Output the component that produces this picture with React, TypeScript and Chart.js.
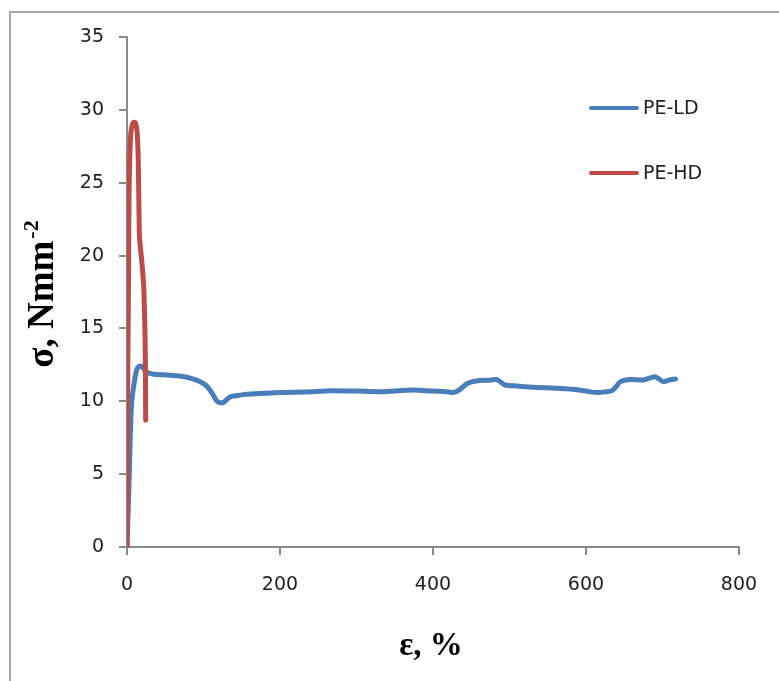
import React, { useEffect, useRef } from "react";
import { Chart, registerables } from "chart.js";

Chart.register(...registerables);

// PE-LD (low density polyethylene): strain (%) and stress (N/mm²)
const ldStrain = [0, 1.5, 3, 4.4, 6.1, 9.2, 12.6, 16, 20, 25.7, 35, 52, 69, 85, 95, 103, 108.5, 113, 117, 121.6, 127, 134.6, 145, 156, 180, 200, 243, 265, 300, 331, 374, 400, 418, 427, 435, 444, 452, 461, 475, 483, 489, 494, 510, 531, 560, 583, 600, 614, 626, 634, 640, 645, 657, 675, 684, 690, 695, 701, 708, 717];
const ldStress = [0, 2.5, 5, 7.8, 9.9, 11.2, 12.15, 12.4, 12.35, 12.0, 11.85, 11.8, 11.73, 11.55, 11.35, 11.1, 10.78, 10.4, 10.05, 9.9, 9.95, 10.3, 10.4, 10.48, 10.55, 10.6, 10.66, 10.73, 10.7, 10.66, 10.77, 10.7, 10.66, 10.6, 10.8, 11.2, 11.35, 11.43, 11.45, 11.5, 11.3, 11.12, 11.05, 10.96, 10.9, 10.82, 10.7, 10.6, 10.65, 10.73, 11.05, 11.35, 11.5, 11.46, 11.6, 11.69, 11.55, 11.35, 11.45, 11.53];

// PE-HD (high density polyethylene)
const hdStrain = [0, 0.4, 1, 1.8, 2.6, 3.5, 5, 7, 9, 11, 13, 14.5, 15.3, 15.7, 16.3, 17.5, 19.5, 21.8, 23.5, 24.2, 24.4];
const hdStress = [0, 6, 12, 17, 23.8, 26.5, 28.4, 29.0, 29.15, 29.1, 28.6, 27, 24.5, 23, 21.3, 20.6, 19.5, 17.9, 14.7, 11.5, 8.7];

const seriesNames = ["PE-LD", "PE-HD"];
const seriesColors = ["#4a7ebb", "#be4b48"];

const xTitle = "ε, %";
const yTitleMain = "σ, Nmm";
const yTitleSup = "-2";

const xMin = 0, xMax = 800, xStep = 200;
const yMin = 0, yMax = 35, yStep = 5;

const tickFont = { family: "DejaVu Sans", size: 19 };
const axisColor = "#8a8a8a";

const decorPlugin = {
  id: "decor",
  afterDraw(chart: any) {
    const ctx = chart.ctx as CanvasRenderingContext2D;
    const area = chart.chartArea;
    ctx.save();
    // legend
    chart.data.datasets.forEach((ds: any, i: number) => {
      const y = 108 + i * 65;
      ctx.strokeStyle = ds.borderColor;
      ctx.lineWidth = 4;
      ctx.lineCap = "round";
      ctx.beginPath();
      ctx.moveTo(591, y);
      ctx.lineTo(637, y);
      ctx.stroke();
      ctx.fillStyle = "#1e1e1e";
      ctx.font = "19px 'DejaVu Sans'";
      ctx.textAlign = "left";
      ctx.textBaseline = "middle";
      ctx.fillText(ds.label, 643, y + 1);
    });
    // x title
    ctx.fillStyle = "#000";
    ctx.font = "bold 33px 'Liberation Serif'";
    ctx.textAlign = "center";
    ctx.textBaseline = "alphabetic";
    ctx.fillText(xTitle, (area.left + area.right) / 2 - 2, 655);
    // y title with superscript
    ctx.font = "bold 37px 'Liberation Serif'";
    const wMain = ctx.measureText(yTitleMain).width;
    ctx.font = "bold 22px 'Liberation Serif'";
    const wSup = ctx.measureText(yTitleSup).width;
    const total = wMain + wSup + 2;
    const cy = (area.top + area.bottom) / 2 + 2;
    ctx.translate(53, cy + total / 2);
    ctx.rotate(-Math.PI / 2);
    ctx.textAlign = "left";
    ctx.font = "bold 37px 'Liberation Serif'";
    ctx.fillText(yTitleMain, 0, 0);
    ctx.font = "bold 22px 'Liberation Serif'";
    ctx.fillText(yTitleSup, wMain + 2, -15);
    ctx.restore();
  },
};

export default function App() {
  const ref = useRef<HTMLCanvasElement | null>(null);
  useEffect(() => {
    if (!ref.current) return;
    const chart = new Chart(ref.current, {
      type: "line",
      data: {
        datasets: [
          {
            label: seriesNames[0],
            data: ldStrain.map((x, i) => ({ x, y: ldStress[i] })),
            borderColor: seriesColors[0],
            backgroundColor: seriesColors[0],
            borderWidth: 5,
            pointRadius: 0,
            tension: 0.3,
            borderCapStyle: "round",
            borderJoinStyle: "round",
            order: 2,
          },
          {
            label: seriesNames[1],
            data: hdStrain.map((x, i) => ({ x, y: hdStress[i] })),
            borderColor: seriesColors[1],
            backgroundColor: seriesColors[1],
            borderWidth: 5,
            pointRadius: 0,
            tension: 0.3,
            borderCapStyle: "round",
            borderJoinStyle: "round",
            order: 1,
          },
        ],
      },
      options: {
        animation: false,
        responsive: false,
        devicePixelRatio: 1,
        layout: { padding: { left: 0, top: 37, right: 40, bottom: 0 } },
        plugins: {
          legend: { display: false },
          tooltip: { enabled: false },
        },
        scales: {
          x: {
            type: "linear",
            min: xMin,
            max: xMax,
            ticks: { stepSize: xStep, font: tickFont, color: "#1e1e1e", padding: 19, maxRotation: 0 },
            grid: { display: true, drawOnChartArea: false, drawTicks: true, tickLength: 8, color: axisColor, lineWidth: 2 },
            border: { display: true, color: axisColor, width: 2 },
            afterFit: (s: any) => { s.height = 134; },
          },
          y: {
            type: "linear",
            min: yMin,
            max: yMax,
            ticks: { stepSize: yStep, font: tickFont, color: "#1e1e1e", padding: 15 },
            grid: { display: true, drawOnChartArea: false, drawTicks: true, tickLength: 8, color: axisColor, lineWidth: 2 },
            border: { display: true, color: axisColor, width: 2 },
            afterFit: (s: any) => { s.width = 127; },
          },
        },
      },
      plugins: [decorPlugin],
    });
    return () => chart.destroy();
  }, []);
  return (
    <div>
      <div
        style={{
          position: "fixed",
          left: 9,
          top: 11,
          width: 900,
          height: 900,
          borderLeft: "2px solid #a8a8a8",
          borderTop: "2px solid #a8a8a8",
        }}
      />
      <canvas
        ref={ref}
        width={779}
        height={681}
        style={{ position: "fixed", left: 0, top: 0, width: 779, height: 681 }}
      />
    </div>
  );
}
